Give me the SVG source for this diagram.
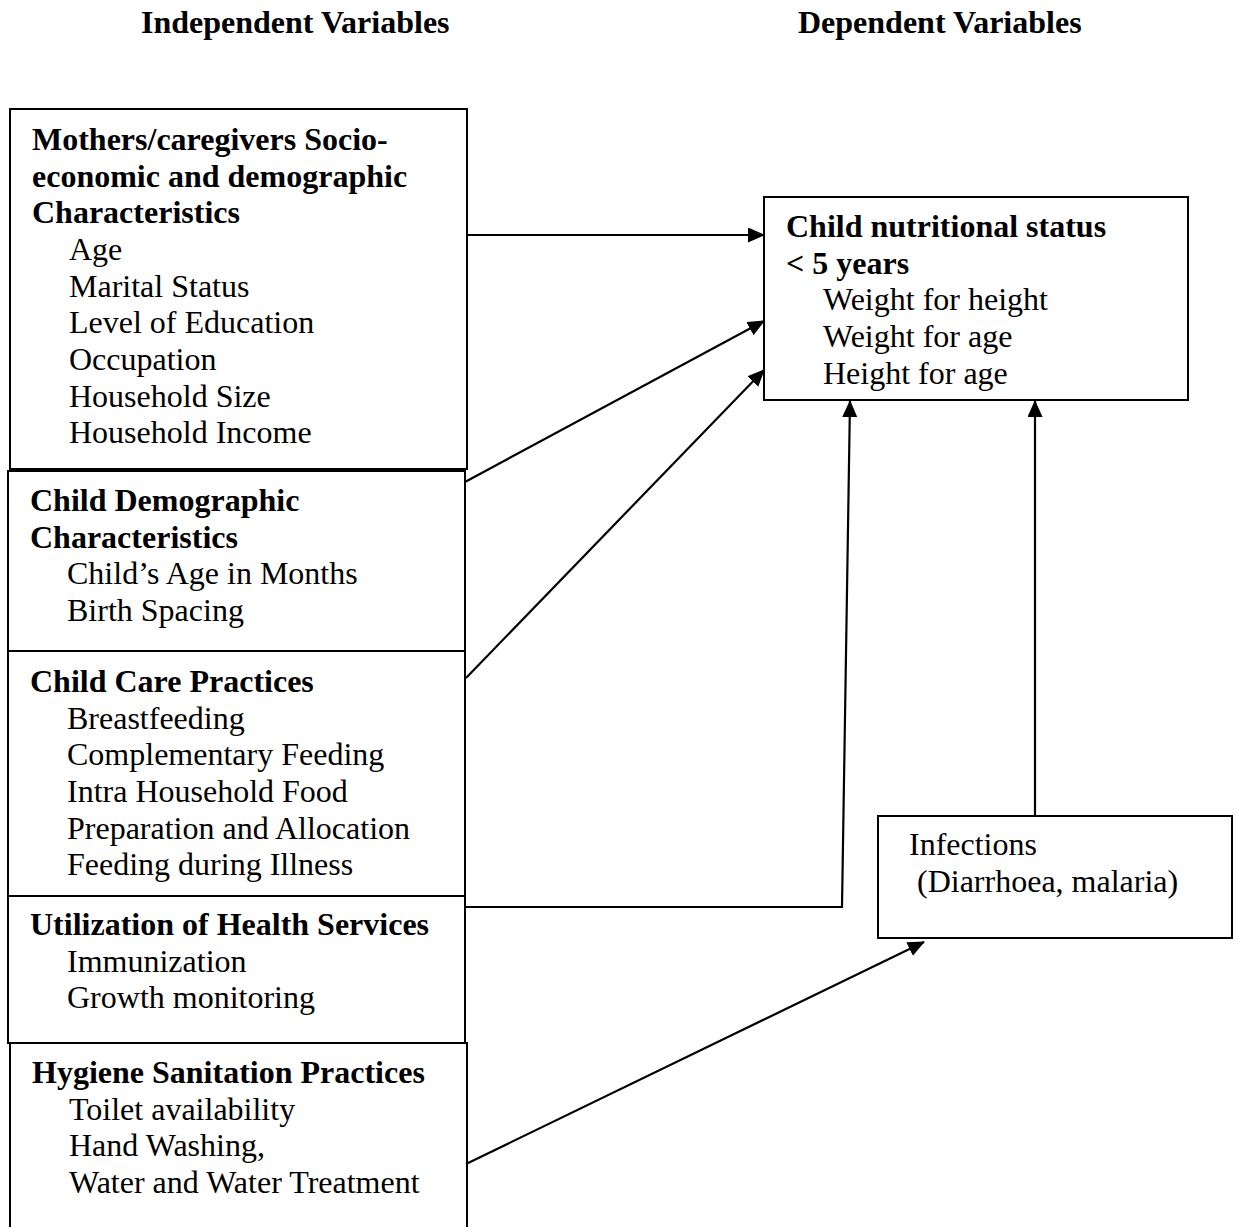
<svg xmlns="http://www.w3.org/2000/svg" width="1239" height="1227" viewBox="0 0 1239 1227">
<defs>
<style>
text{font-family:"Liberation Serif","Times New Roman",serif;font-size:32px;fill:#000}
.b{font-weight:bold}
.box{fill:#fff;stroke:#000;stroke-width:2}
.c{fill:none;stroke:#000;stroke-width:2.2}
</style>
<marker id="ah" markerUnits="userSpaceOnUse" markerWidth="18" markerHeight="16" refX="16" refY="7.5" orient="auto">
<path d="M0,0 L17,7.5 L0,15 Z" fill="#000"/>
</marker>
</defs>
<rect width="1239" height="1227" fill="#fff"/>
<text class="b" x="141" y="33">Independent Variables</text>
<text class="b" x="798" y="33">Dependent Variables</text>

<g id="n-mothers">
<rect class="box" x="10" y="109" width="457" height="360"/>
<text class="b" x="32" y="150">Mothers/caregivers Socio-</text>
<text class="b" x="32" y="186.7">economic and demographic</text>
<text class="b" x="32" y="223.3">Characteristics</text>
<text x="69" y="260">Age</text>
<text x="69" y="296.7">Marital Status</text>
<text x="69" y="333.3">Level of Education</text>
<text x="69" y="370">Occupation</text>
<text x="69" y="406.7">Household Size</text>
<text x="69" y="443.3">Household Income</text>
</g>

<g id="n-childdemo">
<rect class="box" x="8" y="471" width="457" height="180"/>
<text class="b" x="30" y="511">Child Demographic</text>
<text class="b" x="30" y="547.5">Characteristics</text>
<text x="67" y="584">Child’s Age in Months</text>
<text x="67" y="621">Birth Spacing</text>
</g>

<g id="n-childcare">
<rect class="box" x="8" y="651" width="457" height="245"/>
<text class="b" x="30" y="692">Child Care Practices</text>
<text x="67" y="728.7">Breastfeeding</text>
<text x="67" y="765.3">Complementary Feeding</text>
<text x="67" y="802">Intra Household Food</text>
<text x="67" y="838.7">Preparation and Allocation</text>
<text x="67" y="875.3">Feeding during Illness</text>
</g>

<g id="n-health">
<rect class="box" x="8" y="896" width="457" height="147"/>
<text class="b" x="30" y="935">Utilization of Health Services</text>
<text x="67" y="972">Immunization</text>
<text x="67" y="1008">Growth monitoring</text>
</g>

<g id="n-hygiene">
<rect class="box" x="10" y="1043" width="457" height="200"/>
<text class="b" x="32" y="1083">Hygiene Sanitation Practices</text>
<text x="69" y="1119.5">Toilet availability</text>
<text x="69" y="1156">Hand Washing,</text>
<text x="69" y="1192.5">Water and Water Treatment</text>
</g>

<g id="n-nutrition">
<rect class="box" x="764" y="197" width="424" height="203"/>
<text class="b" x="786" y="237">Child nutritional status</text>
<text class="b" x="786" y="273.7">&lt; 5 years</text>
<text x="823" y="310.3">Weight for height</text>
<text x="823" y="347">Weight for age</text>
<text x="823" y="383.7">Height for age</text>
</g>

<g id="n-infections">
<rect class="box" x="878" y="816" width="354" height="122"/>
<text x="909" y="855">Infections</text>
<text x="917" y="892">(Diarrhoea, malaria)</text>
</g>

<g id="connectors">
<path class="c" d="M466,235 L764,235" marker-end="url(#ah)"/>
<path class="c" d="M465,482 Q600,410 764,321" marker-end="url(#ah)"/>
<path class="c" d="M466,678 L764,370" marker-end="url(#ah)"/>
<path class="c" d="M466,907 L842,907 L850,401" marker-end="url(#ah)"/>
<path class="c" d="M1035,816 L1035,401" marker-end="url(#ah)"/>
<path class="c" d="M466,1164 L924,942" marker-end="url(#ah)"/>
</g>
</svg>
